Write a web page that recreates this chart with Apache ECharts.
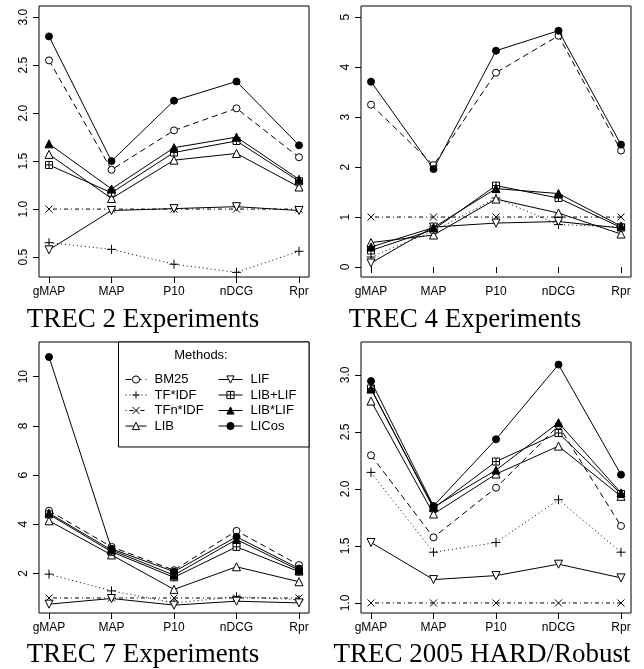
<!DOCTYPE html>
<html>
<head>
<meta charset="utf-8">
<script src="https://cdn.jsdelivr.net/npm/echarts/dist/echarts.min.js"></script>
<style>
html,body{margin:0;padding:0;background:#fff;}
#chart{width:644px;height:669px;}
</style>
</head>
<body>
<div id="chart"></div>
<script>
// ---------- data ----------
const categories = ['gMAP', 'MAP', 'P10', 'nDCG', 'Rpr'];
const methods = ['BM25', 'TF*IDF', 'TFn*IDF', 'LIB', 'LIF', 'LIB+LIF', 'LIB*LIF', 'LICos'];
const panelTitles = ['TREC 2 Experiments', 'TREC 4 Experiments', 'TREC 7 Experiments', 'TREC 2005 HARD/Robust'];

// TREC 2
const trec2_BM25   = [2.55, 1.41, 1.82, 2.05, 1.54];
const trec2_TFIDF  = [0.65, 0.58, 0.425, 0.34, 0.56];
const trec2_TFnIDF = [1.0, 1.0, 1.0, 1.0, 1.0];
const trec2_LIB    = [1.57, 1.11, 1.51, 1.58, 1.23];
const trec2_LIF    = [0.575, 0.985, 1.005, 1.025, 0.985];
const trec2_LIBpLIF = [1.46, 1.17, 1.59, 1.71, 1.29];
const trec2_LIBxLIF = [1.68, 1.21, 1.64, 1.75, 1.31];
const trec2_LICos  = [2.80, 1.50, 2.13, 2.33, 1.665];

// TREC 4
const trec4_BM25   = [3.25, 2.04, 3.89, 4.63, 2.33];
const trec4_TFIDF  = [0.2, 0.72, 1.38, 0.85, 0.8];
const trec4_TFnIDF = [1.0, 1.0, 1.0, 1.0, 1.0];
const trec4_LIB    = [0.49, 0.64, 1.36, 1.08, 0.66];
const trec4_LIF    = [0.08, 0.8, 0.88, 0.91, 0.78];
const trec4_LIBpLIF = [0.33, 0.75, 1.63, 1.38, 0.79];
const trec4_LIBxLIF = [0.40, 0.79, 1.57, 1.47, 0.82];
const trec4_LICos  = [3.71, 1.96, 4.33, 4.73, 2.45];

// TREC 7
const trec7_BM25   = [4.55, 3.08, 2.13, 3.73, 2.34];
const trec7_TFIDF  = [1.97, 1.29, 0.80, 1.05, 0.93];
const trec7_TFnIDF = [1.0, 1.0, 1.0, 1.0, 1.0];
const trec7_LIB    = [4.14, 2.75, 1.35, 2.27, 1.66];
const trec7_LIF    = [0.75, 0.98, 0.71, 0.87, 0.80];
const trec7_LIBpLIF = [4.40, 2.88, 1.84, 3.08, 2.07];
const trec7_LIBxLIF = [4.45, 2.95, 1.93, 3.38, 2.13];
const trec7_LICos  = [10.8, 3.0, 2.07, 3.49, 2.2];

// TREC 2005 HARD/Robust
const trec05_BM25   = [2.295, 1.575, 2.01, 2.555, 1.675];
const trec05_TFIDF  = [2.145, 1.445, 1.53, 1.905, 1.445];
const trec05_TFnIDF = [1.0, 1.0, 1.0, 1.0, 1.0];
const trec05_LIB    = [2.77, 1.78, 2.13, 2.375, 1.935];
const trec05_LIF    = [1.53, 1.205, 1.24, 1.34, 1.22];
const trec05_LIBpLIF = [2.88, 1.83, 2.24, 2.49, 1.955];
const trec05_LIBxLIF = [2.875, 1.84, 2.165, 2.58, 1.965];
const trec05_LICos  = [2.945, 1.85, 2.435, 3.09, 2.125];

// y tick labels
const trec2_yTicks = [0.5, 1.0, 1.5, 2.0, 2.5, 3.0];
const trec4_yTicks = [0, 1, 2, 3, 4, 5];
const trec7_yTicks = [2, 4, 6, 8, 10];
const trec05_yTicks = [1.0, 1.5, 2.0, 2.5, 3.0];

const panelData = [
  [trec2_BM25, trec2_TFIDF, trec2_TFnIDF, trec2_LIB, trec2_LIF, trec2_LIBpLIF, trec2_LIBxLIF, trec2_LICos],
  [trec4_BM25, trec4_TFIDF, trec4_TFnIDF, trec4_LIB, trec4_LIF, trec4_LIBpLIF, trec4_LIBxLIF, trec4_LICos],
  [trec7_BM25, trec7_TFIDF, trec7_TFnIDF, trec7_LIB, trec7_LIF, trec7_LIBpLIF, trec7_LIBxLIF, trec7_LICos],
  [trec05_BM25, trec05_TFIDF, trec05_TFnIDF, trec05_LIB, trec05_LIF, trec05_LIBpLIF, trec05_LIBxLIF, trec05_LICos]
];
const panelTicks = [trec2_yTicks, trec4_yTicks, trec7_yTicks, trec05_yTicks];

// ---------- layout / style ----------
const layout = [
  {left: 39, top: 6, ymin: 0.292, ymax: 3.117, dec: 1, tx: 143, ty: 320},
  {left: 361, top: 6, ymin: -0.2, ymax: 5.225, dec: 0, tx: 465, ty: 320},
  {left: 39, top: 342, ymin: 0.39, ymax: 11.41, dec: 0, tx: 143, ty: 655},
  {left: 361, top: 342, ymin: 0.912, ymax: 3.288, dec: 1, tx: 482, ty: 655}
];
const GW = 270, GH = 271;

const styles = {
  'BM25':    {symbol: 'circle', fill: '#fff', dash: [6, 4], size: 7},
  'TF*IDF':  {symbol: 'path://M5,0V10M0,5H10', fill: 'rgba(0,0,0,0)', dash: [1, 3], size: 9},
  'TFn*IDF': {symbol: 'path://M0,0L10,10M10,0L0,10', fill: 'rgba(0,0,0,0)', dash: [1, 3, 4, 3], size: 7},
  'LIB':     {symbol: 'triangle', fill: '#fff', dash: 'solid', size: 8},
  'LIF':     {symbol: 'triangle', fill: '#fff', dash: 'solid', size: 8, rotate: 180},
  'LIB+LIF': {symbol: 'path://M0,0H10V10H0ZM5,0V10M0,5H10', fill: '#fff', dash: 'solid', size: 7},
  'LIB*LIF': {symbol: 'triangle', fill: '#000', dash: 'solid', size: 8},
  'LICos':   {symbol: 'circle', fill: '#000', dash: 'solid', size: 7}
};

const grids = [], xAxes = [], yAxes = [], series = [], graphics = [];
layout.forEach((L, p) => {
  grids.push({left: L.left, top: L.top, width: GW, height: GH, show: true,
    borderColor: '#000', borderWidth: 1, backgroundColor: 'transparent', containLabel: false});
  xAxes.push({type: 'value', gridIndex: p, min: 0.84, max: 5.16,
    axisLine: {show: false}, splitLine: {show: false},
    axisTick: {show: true, length: 6, customValues: [1, 2, 3, 4, 5], lineStyle: {color: '#000'}},
    axisLabel: {customValues: [1, 2, 3, 4, 5], margin: 9, color: '#000', fontSize: 12,
      fontFamily: 'Liberation Sans', formatter: v => categories[Math.round(v) - 1]}});
  yAxes.push({type: 'value', gridIndex: p, min: L.ymin, max: L.ymax,
    axisLine: {show: false}, splitLine: {show: false},
    axisTick: {show: true, length: 6, customValues: panelTicks[p], lineStyle: {color: '#000'}},
    axisLabel: {customValues: panelTicks[p], rotate: 90, margin: 9, color: '#000', fontSize: 12,
      fontFamily: 'Liberation Sans', formatter: v => Number(v).toFixed(L.dec)}});
  methods.forEach((m, k) => {
    const s = styles[m];
    series.push({
      type: 'line', name: m, xAxisIndex: p, yAxisIndex: p,
      data: panelData[p][k].map((v, i) => [i + 1, v]),
      symbol: s.symbol, symbolSize: s.size, symbolRotate: s.rotate || 0,
      showAllSymbol: true, animation: false, z: 2 + k * 0.01,
      itemStyle: {color: s.fill, borderColor: '#000', borderWidth: 1},
      lineStyle: {color: '#000', width: 1, type: s.dash},
      emphasis: {disabled: true}
    });
  });
  graphics.push({type: 'text', x: L.tx, y: L.ty, z: 10,
    style: {text: panelTitles[p], font: '27px "Liberation Serif"', fill: '#000',
      textAlign: 'center', textVerticalAlign: 'middle'}});
});

// legend box + heading
graphics.push({type: 'rect', z: 3, shape: {x: 118.5, y: 342, width: 190.5, height: 105},
  style: {fill: '#fff', stroke: '#000', lineWidth: 1}});
graphics.push({type: 'text', x: 201, y: 355, z: 4,
  style: {text: 'Methods:', font: '13px "Liberation Sans"', fill: '#000',
    textAlign: 'center', textVerticalAlign: 'middle'}});

const legendCommon = {orient: 'vertical', itemGap: 2.5, itemHeight: 9, selectedMode: false, z: 5,
  itemStyle: {borderWidth: 1}, lineStyle: {width: 1},
  textStyle: {fontSize: 13, fontFamily: 'Liberation Sans', color: '#000', padding: [0, 0, 0, 3]}};

const chart = echarts.init(document.getElementById('chart'), null, {renderer: 'canvas'});
chart.setOption({
  animation: false,
  backgroundColor: '#fff',
  grid: grids, xAxis: xAxes, yAxis: yAxes, series: series,
  graphic: graphics,
  legend: [
    Object.assign({data: methods.slice(0, 4), left: 120, top: 368, itemWidth: 21}, legendCommon),
    Object.assign({data: methods.slice(4), left: 213, top: 368, itemWidth: 24}, legendCommon)
  ]
});
</script>
</body>
</html>
